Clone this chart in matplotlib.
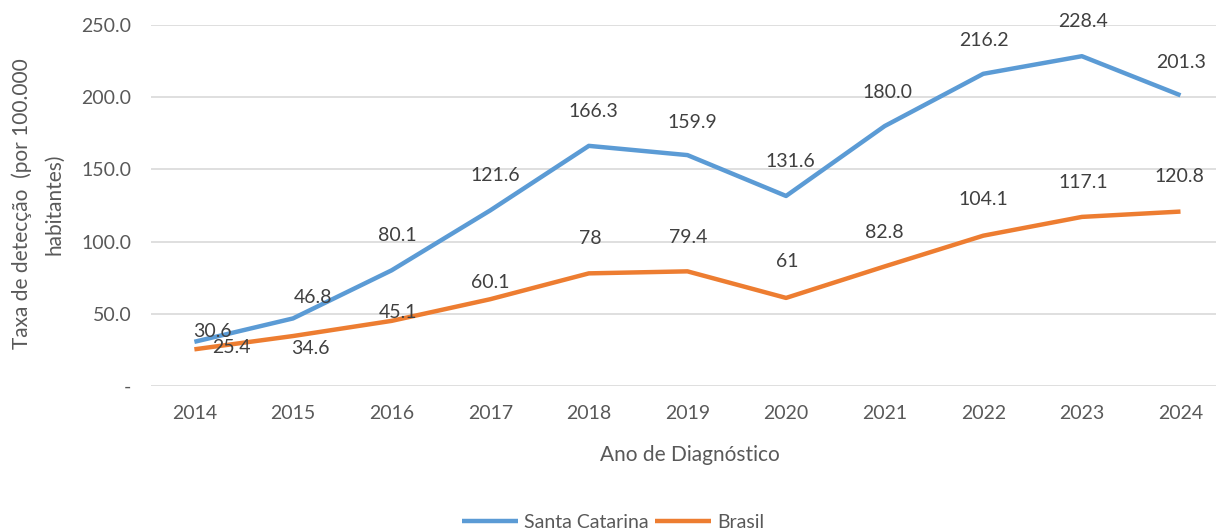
import matplotlib
matplotlib.use("Agg")
import matplotlib.pyplot as plt

# data
anos = [2014, 2015, 2016, 2017, 2018, 2019, 2020, 2021, 2022, 2023, 2024]
santa_catarina = [30.6, 46.8, 80.1, 121.6, 166.3, 159.9, 131.6, 180.0, 216.2, 228.4, 201.3]
brasil = [25.4, 34.6, 45.1, 60.1, 78, 79.4, 61, 82.8, 104.1, 117.1, 120.8]
rotulos_sc = ["30.6", "46.8", "80.1", "121.6", "166.3", "159.9", "131.6", "180.0", "216.2", "228.4", "201.3"]
rotulos_br = ["25.4", "34.6", "45.1", "60.1", "78", "79.4", "61", "82.8", "104.1", "117.1", "120.8"]
y_ticks = [0, 50, 100, 150, 200, 250]
y_ticklabels = ["-", "50.0", "100.0", "150.0", "200.0", "250.0"]

# label offsets in pixels (dx, dy), as placed in the original
offsets_sc = [(18, 10), (20, 21), (6, 35), (5, 35), (5, 34), (5, 33), (4, 34), (3, 34), (1, 33), (1, 35), (1, 33)]
offsets_br = [(37, 2), (17, -12), (6, 8), (0, 17), (1, 35), (1, 34), (1, 36), (0, 34), (0, 36), (1, 34), (-1, 35)]

AZUL = "#5B9BD5"
LARANJA = "#ED7D31"
TEXTO = "#595959"
GRADE = "#D9D9D9"

plt.rcParams["font.family"] = ["Lato", "DejaVu Sans"]
plt.rcParams["font.size"] = 14

W, H = 1219, 532
fig = plt.figure(figsize=(W / 100, H / 100), dpi=100)
ax = fig.add_axes([151 / W, (H - 386) / H, (1216 - 151) / W, (386 - 25) / H])

l1, = ax.plot(anos, santa_catarina, color=AZUL, lw=3.2, solid_capstyle="butt", label="Santa Catarina")
l2, = ax.plot(anos, brasil, color=LARANJA, lw=3.2, solid_capstyle="butt", label="Brasil")

for x, y, txt, (dx, dy) in zip(anos, santa_catarina, rotulos_sc, offsets_sc):
    ax.annotate(txt, (x, y), xytext=(dx, dy), textcoords="offset pixels",
                ha="center", va="center", color="#404040", fontsize=14)
for x, y, txt, (dx, dy) in zip(anos, brasil, rotulos_br, offsets_br):
    ax.annotate(txt, (x, y), xytext=(dx, dy), textcoords="offset pixels",
                ha="center", va="center", color="#404040", fontsize=14)

ax.set_xlim(anos[0] - 0.44, anos[-1] + 0.36)
ax.set_ylim(0, 250)
ax.set_xticks(anos)
ax.set_xticklabels([str(a) for a in anos])
ax.set_yticks(y_ticks)
ax.set_yticklabels(y_ticklabels)
ax.tick_params(axis="both", length=0, colors=TEXTO, labelsize=14)
ax.tick_params(axis="y", pad=14)
ax.tick_params(axis="x", pad=14)
ax.grid(axis="y", color=GRADE, lw=1.2)
ax.set_axisbelow(True)
for s in ax.spines.values():
    s.set_visible(False)

fig.text(690 / W, 1 - 455 / H, "Ano de Diagnóstico", ha="center", va="center",
         color=TEXTO, fontsize=15)
fig.text(38 / W, 1 - 204 / H, "Taxa de detecção  (por 100.000\nhabitantes)", ha="center",
         va="center", rotation=90, color=TEXTO, fontsize=15, linespacing=1.8,
         multialignment="center")

fig.legend(handles=[l1, l2], loc="center", bbox_to_anchor=(613 / W, 1 - 522 / H),
           ncol=2, frameon=False, handlelength=2.9, handletextpad=0.3,
           columnspacing=0.3, labelcolor=TEXTO, fontsize=14)

fig.savefig("out.png", dpi=100)
